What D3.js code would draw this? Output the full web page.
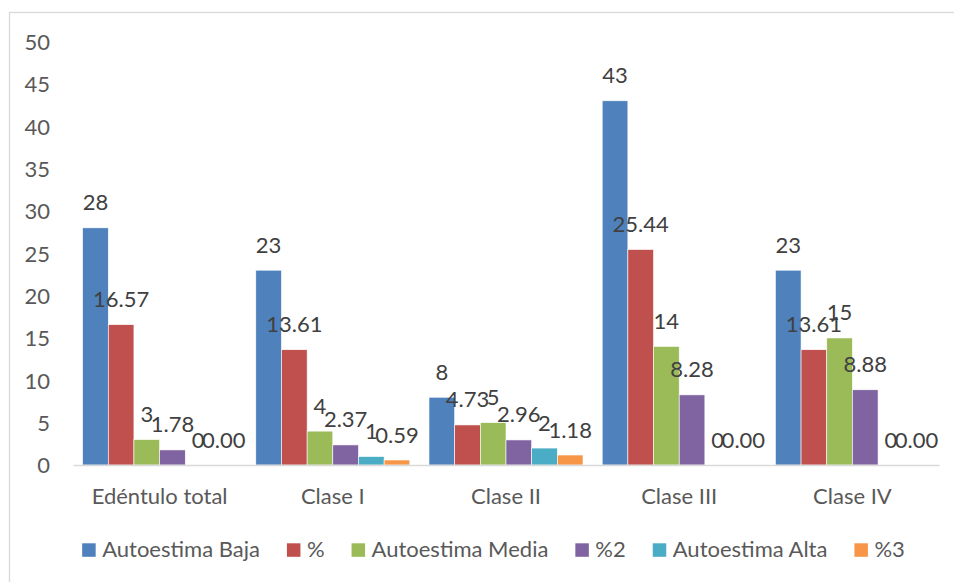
<!DOCTYPE html>
<html><head><meta charset="utf-8">
<script src="https://cdn.jsdelivr.net/npm/d3@7"></script>
<style>
html,body{margin:0;padding:0;background:#fff;}
svg{display:block;}
</style></head>
<body>
<svg id="chart" width="954" height="582"></svg>
<script>
const categories = ["Edéntulo total", "Clase I", "Clase II", "Clase III", "Clase IV"];
const seriesNames = ["Autoestima Baja", "%", "Autoestima Media", "%2", "Autoestima Alta", "%3"];
const autoestimaBaja  = [28, 23, 8, 43, 23];
const pctBaja         = [16.57, 13.61, 4.73, 25.44, 13.61];
const autoestimaMedia = [3, 4, 5, 14, 15];
const pctMedia        = [1.78, 2.37, 2.96, 8.28, 8.88];
const autoestimaAlta  = [0, 1, 2, 0, 0];
const pctAlta         = [0.00, 0.59, 1.18, 0.00, 0.00];
const labelFormats    = ["int", "dec", "int", "dec", "int", "dec"];
const yTicks = [0, 5, 10, 15, 20, 25, 30, 35, 40, 45, 50];
const colors = ["#4F81BD", "#C0504D", "#9BBB59", "#8064A2", "#4BACC6", "#F79646"];

const seriesValues = [autoestimaBaja, pctBaja, autoestimaMedia, pctMedia, autoestimaAlta, pctAlta];

const FONT = "Lato, 'Open Sans', 'Liberation Sans', sans-serif";
const FS = 22;
const svg = d3.select("#chart");

// chart border
svg.append("rect").attr("x", 9.5).attr("y", 12.5).attr("width", 1000).attr("height", 700)
  .attr("fill", "#fff").attr("stroke", "#D9D9D9").attr("stroke-width", 1.3);

const plot = {left: 73, right: 939, top: 41.5, bottom: 465};

const x0 = d3.scaleBand().domain(categories).range([plot.left, plot.right]).paddingInner(0).paddingOuter(0);
const inner = 9.6;
const x1 = d3.scaleBand().domain(d3.range(seriesNames.length)).range([inner, x0.bandwidth() - inner]).padding(0);
const y = d3.scaleLinear().domain([0, 50]).range([plot.bottom, plot.top]);

// y axis labels
const yAxis = d3.axisLeft(y).tickValues(yTicks).tickSize(0).tickPadding(0).tickFormat(d3.format("d"));
const gy = svg.append("g").attr("transform", `translate(50,0)`).call(yAxis);
gy.select(".domain").remove();
gy.selectAll("text").attr("font-family", FONT).attr("font-size", FS).attr("fill", "#595959")
  .attr("dy", "0.36em").attr("x", 0);

// bars
const groups = svg.append("g").selectAll("g").data(categories).join("g")
  .attr("transform", d => `translate(${x0(d)},0)`);

groups.each(function(cat, ci) {
  const g = d3.select(this);
  seriesValues.forEach((vals, si) => {
    const v = vals[ci];
    if (v > 0) {
      g.append("rect")
        .attr("x", x1(si)).attr("width", x1.bandwidth())
        .attr("y", y(v)).attr("height", y(0) - y(v))
        .attr("fill", colors[si]).attr("stroke", "#fff").attr("stroke-width", 0.6);
    }
  });
});

// x axis
const xAxis = d3.axisBottom(x0).tickSize(0).tickPadding(0);
const gx = svg.append("g").attr("transform", `translate(0,${plot.bottom})`).call(xAxis);
gx.select(".domain").attr("stroke", "#D9D9D9").attr("stroke-width", 1.6);
gx.selectAll("text").attr("font-family", FONT).attr("font-size", FS).attr("fill", "#595959")
  .attr("y", 39).attr("dy", 0);

// data labels
groups.each(function(cat, ci) {
  const g = d3.select(this);
  seriesValues.forEach((vals, si) => {
    const v = vals[ci];
    const txt = labelFormats[si] === "int" ? d3.format("d")(v) : d3.format(".2f")(v);
    g.append("text")
      .attr("x", x1(si) + x1.bandwidth() / 2)
      .attr("y", y(v) - 17.5)
      .attr("text-anchor", "middle")
      .attr("font-family", FONT).attr("font-size", FS).attr("fill", "#404040")
      .text(txt);
  });
});

// legend
const legend = svg.append("g");
const items = legend.selectAll("g").data(seriesNames).join("g");
const sq = 13.5, gapText = 6.5, gapItem = 27;
items.append("rect").attr("width", sq).attr("height", sq).attr("y", 543.3)
  .attr("fill", (d, i) => colors[i]);
items.append("text").attr("x", sq + gapText).attr("y", 557)
  .attr("font-family", FONT).attr("font-size", FS).attr("fill", "#595959").text(d => d);
let xpos = 0; const offs = [];
items.each(function() {
  offs.push(xpos);
  const w = d3.select(this).select("text").node().getComputedTextLength();
  xpos += sq + gapText + w + gapItem;
});
const total = xpos - gapItem;
const start = 493.5 - total / 2;
items.attr("transform", (d, i) => `translate(${start + offs[i]},0)`);
</script>
</body></html>
